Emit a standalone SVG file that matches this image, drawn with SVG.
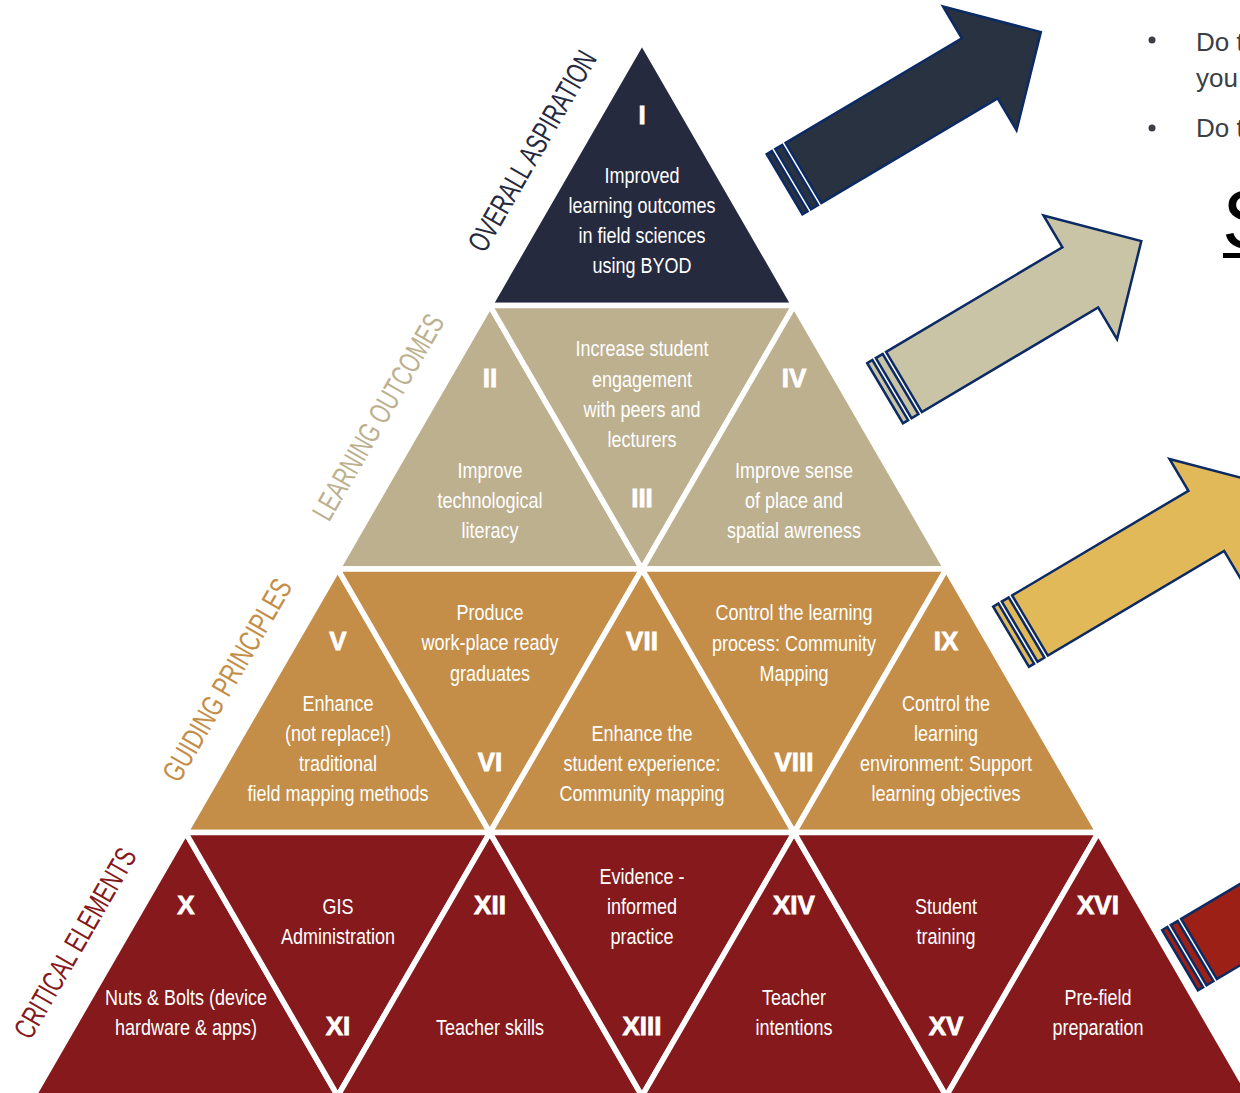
<svg xmlns="http://www.w3.org/2000/svg" width="1240" height="1093" viewBox="0 0 1240 1093">
<style>
.tri{stroke:#ffffff;stroke-width:5.5;stroke-linejoin:miter}
.navy{fill:#252a3f}.tan{fill:#bdb08f}.ochre{fill:#c48e48}.red{fill:#85191c}
.t{font-family:"Liberation Sans","Arial",sans-serif;font-size:22.5px;fill:#ffffff;text-anchor:middle}
.n{font-family:"Liberation Sans","DejaVu Sans",sans-serif;font-weight:bold;font-size:26px;fill:#ffffff;stroke:#ffffff;stroke-width:0.8;text-anchor:middle}
.side{font-family:"Liberation Sans","Arial",sans-serif;font-size:30px;text-anchor:middle}
.body{font-family:"Liberation Sans","Open Sans",sans-serif;font-size:26px;fill:#3a3f47}
.arr{stroke:#0c2a63;stroke-width:2.5;stroke-linejoin:miter}
</style>
<defs>
<g id="arrowShape">
<path d="M0,-35 L205,-35 L205,-72 L276,0 L205,72 L205,35 L0,35 Z"/>
<rect x="-12" y="-35" width="8" height="70"/>
<rect x="-22" y="-35" width="6" height="70"/>
</g>
</defs>
<rect width="1240" height="1093" fill="#ffffff"/>

<g id="arrows">
<use href="#arrowShape" class="arr" fill="#283241" transform="translate(803.5,173) rotate(-30.7)"/>
<use href="#arrowShape" class="arr" fill="#c8c4a5" transform="translate(904,382) rotate(-30.7)"/>
<use href="#arrowShape" class="arr" fill="#e1b959" transform="translate(1030,625.5) rotate(-30.7)"/>
<use href="#arrowShape" class="arr" fill="#9d2016" transform="translate(1199,949) rotate(-30.7)"/>
</g>

<g id="side-text">
<circle cx="1152" cy="40" r="3.5" fill="#3a3f47"/>
<text class="body" x="1196" y="51">Do t</text>
<text class="body" x="1196" y="87">you</text>
<circle cx="1152" cy="128" r="3.5" fill="#3a3f47"/>
<text class="body" x="1196" y="137">Do t</text>
<text x="1222" y="248" font-family="Liberation Sans, Open Sans, sans-serif" font-size="84" fill="#000000">S</text>
<rect x="1223" y="253" width="17" height="5" fill="#000000"/>
</g>

<g id="labels">
<text class="side" fill="#252a3f" textLength="226" lengthAdjust="spacingAndGlyphs" transform="translate(532,151) rotate(-60)" y="10.5">OVERALL ASPIRATION</text>
<text class="side" fill="#bdb08f" textLength="232" lengthAdjust="spacingAndGlyphs" transform="translate(378,417) rotate(-60)" y="10.5">LEARNING OUTCOMES</text>
<text class="side" fill="#c48e48" textLength="228" lengthAdjust="spacingAndGlyphs" transform="translate(227,680) rotate(-60)" y="10.5">GUIDING PRINCIPLES</text>
<text class="side" fill="#85191c" textLength="214" lengthAdjust="spacingAndGlyphs" transform="translate(75,943) rotate(-60)" y="10.5">CRITICAL ELEMENTS</text>
</g>

<g id="node-I">
<polygon class="tri navy" points="642,42 489.87,305.5 794.13,305.5"/>
<text class="n" x="642" y="124">I</text>
<g transform="matrix(0.8 0 0 1 128.4 0)">
<text class="t" x="642" y="183">Improved</text>
<text class="t" x="642" y="213">learning outcomes</text>
<text class="t" x="642" y="243">in field sciences</text>
<text class="t" x="642" y="273">using BYOD</text>
</g>
</g>

<g id="node-II">
<polygon class="tri tan" points="489.87,305.5 337.74,569 642,569"/>
<text class="n" x="490" y="387">II</text>
<g transform="matrix(0.8 0 0 1 98 0)">
<text class="t" x="490" y="478">Improve</text>
<text class="t" x="490" y="508">technological</text>
<text class="t" x="490" y="538">literacy</text>
</g>
</g>

<g id="node-III">
<polygon class="tri tan" points="489.87,305.5 794.13,305.5 642,569"/>
<g transform="matrix(0.8 0 0 1 128.4 0)">
<text class="t" x="642" y="356">Increase student</text>
<text class="t" x="642" y="387">engagement</text>
<text class="t" x="642" y="417">with peers and</text>
<text class="t" x="642" y="447">lecturers</text>
</g>
<text class="n" x="642" y="507">III</text>
</g>

<g id="node-IV">
<polygon class="tri tan" points="794.13,305.5 642,569 946.26,569"/>
<text class="n" x="794" y="387">IV</text>
<g transform="matrix(0.8 0 0 1 158.8 0)">
<text class="t" x="794" y="478">Improve sense</text>
<text class="t" x="794" y="508">of place and</text>
<text class="t" x="794" y="538">spatial awreness</text>
</g>
</g>

<g id="node-V">
<polygon class="tri ochre" points="337.74,569 185.61,832.5 489.87,832.5"/>
<text class="n" x="338" y="650">V</text>
<g transform="matrix(0.8 0 0 1 67.6 0)">
<text class="t" x="338" y="711">Enhance</text>
<text class="t" x="338" y="741">(not replace!)</text>
<text class="t" x="338" y="771">traditional</text>
<text class="t" x="338" y="801">field mapping methods</text>
</g>
</g>

<g id="node-VI">
<polygon class="tri ochre" points="337.74,569 642,569 489.87,832.5"/>
<g transform="matrix(0.8 0 0 1 98 0)">
<text class="t" x="490" y="620">Produce</text>
<text class="t" x="490" y="650">work-place ready</text>
<text class="t" x="490" y="681">graduates</text>
</g>
<text class="n" x="490" y="771">VI</text>
</g>

<g id="node-VII">
<polygon class="tri ochre" points="642,569 489.87,832.5 794.13,832.5"/>
<text class="n" x="642" y="650">VII</text>
<g transform="matrix(0.8 0 0 1 128.4 0)">
<text class="t" x="642" y="741">Enhance the</text>
<text class="t" x="642" y="771">student experience:</text>
<text class="t" x="642" y="801">Community mapping</text>
</g>
</g>

<g id="node-VIII">
<polygon class="tri ochre" points="642,569 946.26,569 794.13,832.5"/>
<g transform="matrix(0.8 0 0 1 158.8 0)">
<text class="t" x="794" y="620">Control the learning</text>
<text class="t" x="794" y="651">process: Community</text>
<text class="t" x="794" y="681">Mapping</text>
</g>
<text class="n" x="794" y="771">VIII</text>
</g>

<g id="node-IX">
<polygon class="tri ochre" points="946.26,569 794.13,832.5 1098.39,832.5"/>
<text class="n" x="946" y="650">IX</text>
<g transform="matrix(0.8 0 0 1 189.2 0)">
<text class="t" x="946" y="711">Control the</text>
<text class="t" x="946" y="741">learning</text>
<text class="t" x="946" y="771">environment: Support</text>
<text class="t" x="946" y="801">learning objectives</text>
</g>
</g>

<g id="node-X">
<polygon class="tri red" points="185.61,832.5 33.48,1096 337.74,1096"/>
<text class="n" x="186" y="914">X</text>
<g transform="matrix(0.8 0 0 1 37.2 0)">
<text class="t" x="186" y="1005">Nuts &amp; Bolts (device</text>
<text class="t" x="186" y="1035">hardware &amp; apps)</text>
</g>
</g>

<g id="node-XI">
<polygon class="tri red" points="185.61,832.5 489.87,832.5 337.74,1096"/>
<g transform="matrix(0.8 0 0 1 67.6 0)">
<text class="t" x="338" y="914">GIS</text>
<text class="t" x="338" y="944">Administration</text>
</g>
<text class="n" x="338" y="1035">XI</text>
</g>

<g id="node-XII">
<polygon class="tri red" points="489.87,832.5 337.74,1096 642,1096"/>
<text class="n" x="490" y="914">XII</text>
<g transform="matrix(0.8 0 0 1 98 0)">
<text class="t" x="490" y="1035">Teacher skills</text>
</g>
</g>

<g id="node-XIII">
<polygon class="tri red" points="489.87,832.5 794.13,832.5 642,1096"/>
<g transform="matrix(0.8 0 0 1 128.4 0)">
<text class="t" x="642" y="884">Evidence -</text>
<text class="t" x="642" y="914">informed</text>
<text class="t" x="642" y="944">practice</text>
</g>
<text class="n" x="642" y="1035">XIII</text>
</g>

<g id="node-XIV">
<polygon class="tri red" points="794.13,832.5 642,1096 946.26,1096"/>
<text class="n" x="794" y="914">XIV</text>
<g transform="matrix(0.8 0 0 1 158.8 0)">
<text class="t" x="794" y="1005">Teacher</text>
<text class="t" x="794" y="1035">intentions</text>
</g>
</g>

<g id="node-XV">
<polygon class="tri red" points="794.13,832.5 1098.39,832.5 946.26,1096"/>
<g transform="matrix(0.8 0 0 1 189.2 0)">
<text class="t" x="946" y="914">Student</text>
<text class="t" x="946" y="944">training</text>
</g>
<text class="n" x="946" y="1035">XV</text>
</g>

<g id="node-XVI">
<polygon class="tri red" points="1098.39,832.5 946.26,1096 1250.52,1096"/>
<text class="n" x="1098" y="914">XVI</text>
<g transform="matrix(0.8 0 0 1 219.6 0)">
<text class="t" x="1098" y="1005">Pre-field</text>
<text class="t" x="1098" y="1035">preparation</text>
</g>
</g>
</svg>
